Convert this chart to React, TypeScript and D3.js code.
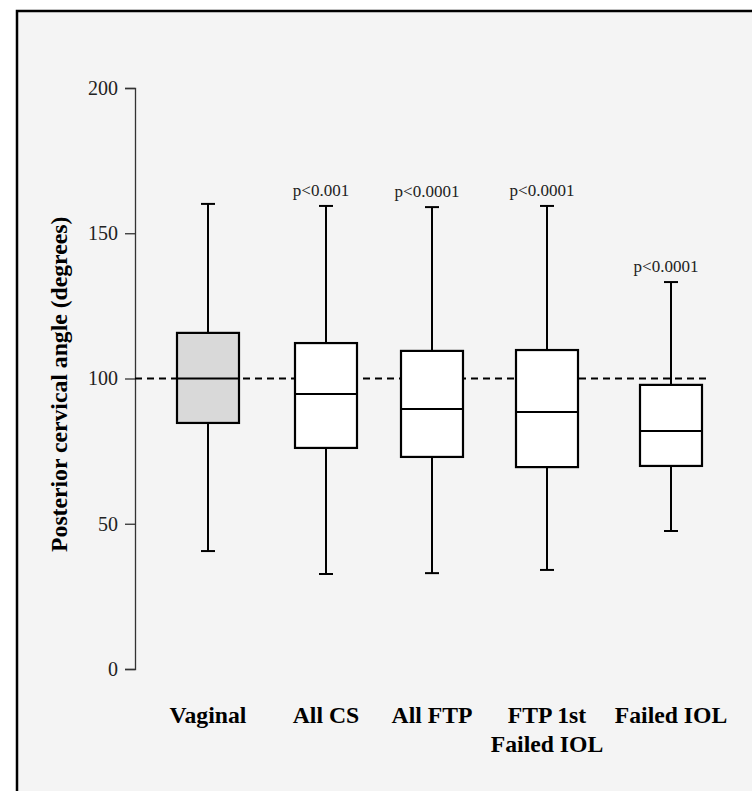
import React, {useRef, useEffect} from 'react';
import * as d3 from 'd3';

// Box plot summary per group (degrees)
const categories = ['Vaginal', 'All CS', 'All FTP', 'FTP 1st|Failed IOL', 'Failed IOL'];
const whiskerLow = [40.6, 32.7, 33.0, 34.1, 47.5];
const quartile1 = [84.7, 76.1, 73.0, 69.5, 69.9];
const medians = [100, 94.7, 89.5, 88.5, 81.9];
const quartile3 = [115.7, 112.2, 109.5, 109.8, 97.8];
const whiskerHigh = [160.1, 159.4, 159.0, 159.4, 133.2];
const pLabels = ['', 'p<0.001', 'p<0.0001', 'p<0.0001', 'p<0.0001'];
const yTicks = [0, 50, 100, 150, 200];
const referenceValue = 100;

const WIDTH = 752;
const HEIGHT = 791;
const FONT = '"Liberation Serif", "Times New Roman", serif';

const BoxPlot = () => {
    const svgRef = useRef<SVGSVGElement | null>(null);

    useEffect(() => {
        const svg = d3.select(svgRef.current);
        svg.selectAll('*').remove();

        // panel background with border on left and top
        svg.append('rect')
            .attr('x', 17).attr('y', 11)
            .attr('width', WIDTH + 10).attr('height', HEIGHT + 10)
            .attr('fill', '#f4f4f4')
            .attr('stroke', '#000')
            .attr('stroke-width', 2.5);

        const yScale = d3.scaleLinear().domain([0, 200]).range([669, 88]);

        // group centres are not evenly spaced in the original
        const xScale = d3.scaleOrdinal<string, number>()
            .domain(categories)
            .range([208, 326, 432, 547, 671]);

        const boxWidth = 62;
        const capWidth = 14;

        // y axis
        const yAxis = d3.axisLeft(yScale)
            .tickValues(yTicks)
            .tickSize(10)
            .tickPadding(7)
            .tickFormat(d3.format('d'));

        const axisG = svg.append('g')
            .attr('transform', 'translate(135,0)')
            .call(yAxis);
        axisG.select('.domain').attr('stroke', '#333').attr('stroke-width', 1.3);
        axisG.selectAll('.tick line').attr('stroke', '#333').attr('stroke-width', 1.3);
        axisG.selectAll('.tick text')
            .attr('font-family', FONT)
            .attr('font-size', 20)
            .attr('fill', '#222');

        svg.append('text')
            .attr('transform', `translate(67,${yScale(98)}) rotate(-90)`)
            .attr('text-anchor', 'middle')
            .attr('font-family', FONT)
            .attr('font-weight', 'bold')
            .attr('font-size', 23.7)
            .text('Posterior cervical angle (degrees)');

        // reference line
        svg.append('line')
            .attr('x1', 135).attr('x2', 708)
            .attr('y1', yScale(referenceValue)).attr('y2', yScale(referenceValue))
            .attr('stroke', '#000')
            .attr('stroke-width', 1.8)
            .attr('stroke-dasharray', '7,5');

        const groups = svg.selectAll('g.box')
            .data(categories)
            .enter().append('g')
            .attr('class', 'box');

        groups.each(function (cat, i) {
            const g = d3.select(this);
            const cx = xScale(cat);

            // whiskers
            g.append('line')
                .attr('x1', cx).attr('x2', cx)
                .attr('y1', yScale(whiskerHigh[i])).attr('y2', yScale(quartile3[i]))
                .attr('stroke', '#000').attr('stroke-width', 2);
            g.append('line')
                .attr('x1', cx).attr('x2', cx)
                .attr('y1', yScale(quartile1[i])).attr('y2', yScale(whiskerLow[i]))
                .attr('stroke', '#000').attr('stroke-width', 2);
            [whiskerHigh[i], whiskerLow[i]].forEach(v => {
                g.append('line')
                    .attr('x1', cx - capWidth / 2).attr('x2', cx + capWidth / 2)
                    .attr('y1', yScale(v)).attr('y2', yScale(v))
                    .attr('stroke', '#000').attr('stroke-width', 2);
            });

            // box
            g.append('rect')
                .attr('x', cx - boxWidth / 2)
                .attr('y', yScale(quartile3[i]))
                .attr('width', boxWidth)
                .attr('height', yScale(quartile1[i]) - yScale(quartile3[i]))
                .attr('fill', i === 0 ? '#d9d9d9' : '#fff')
                .attr('stroke', '#000')
                .attr('stroke-width', 2.2);

            // median
            g.append('line')
                .attr('x1', cx - boxWidth / 2).attr('x2', cx + boxWidth / 2)
                .attr('y1', yScale(medians[i])).attr('y2', yScale(medians[i]))
                .attr('stroke', '#000').attr('stroke-width', 2);

            // p value
            if (pLabels[i]) {
                g.append('text')
                    .attr('x', cx - 5)
                    .attr('y', yScale(whiskerHigh[i]) - 10)
                    .attr('text-anchor', 'middle')
                    .attr('font-family', FONT)
                    .attr('font-size', 17)
                    .attr('fill', '#222')
                    .text(pLabels[i]);
            }

            // category label (may wrap)
            const label = g.append('text')
                .attr('text-anchor', 'middle')
                .attr('font-family', FONT)
                .attr('font-weight', 'bold')
                .attr('font-size', 23.7);
            cat.split('|').forEach((line, j) => {
                label.append('tspan')
                    .attr('x', cx)
                    .attr('y', 723 + j * 29)
                    .text(line);
            });
        });
    }, []);

    return (
        <svg ref={svgRef} width={WIDTH} height={HEIGHT}
             style={{position: 'absolute', left: 0, top: 0, background: '#fff'}}/>
    );
};

export default function App() {
    return <BoxPlot/>;
}
